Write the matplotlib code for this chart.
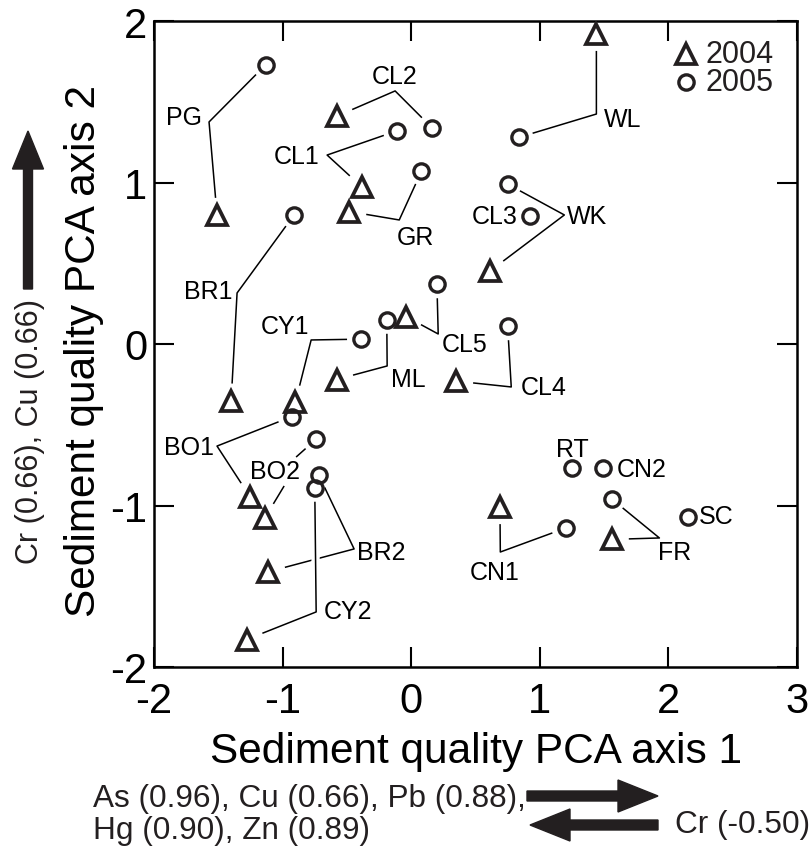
import matplotlib
matplotlib.use("Agg")
import matplotlib.pyplot as plt
import numpy as np
from matplotlib.patches import FancyArrow
from matplotlib.transforms import IdentityTransform
import matplotlib.patheffects as pe

plt.rcParams["font.family"] = ["Liberation Sans", "DejaVu Sans"]
plt.rcParams["axes.unicode_minus"] = False

# ---------------- data ----------------
sites_04 = ["PG", "CL2", "CL1", "GR", "WL", "WK", "BR1", "CY1", "ML", "CL5",
            "CL4", "BO1", "BO2", "BR2", "CY2", "CN1", "FR"]
x_2004 = [-1.51, -0.58, -0.38, -0.48, 1.44, 0.61, -1.40, -0.90, -0.58, -0.04,
          0.35, -1.25, -1.14, -1.11, -1.28, 0.69, 1.56]
y_2004 = [0.80, 1.41, 0.97, 0.82, 1.92, 0.45, -0.35, -0.36, -0.22, 0.17,
          -0.23, -0.95, -1.08, -1.41, -1.83, -1.01, -1.21]

sites_05 = ["PG", "CL2", "CL1", "GR", "WL", "WK", "BR1", "CY1", "ML", "CL5",
            "CL4", "BO1", "BO2", "BR2", "CY2", "CN1", "FR", "CL3", "RT", "CN2", "SC"]
x_2005 = [-1.13, 0.16, -0.11, 0.08, 0.84, 0.75, -0.91, -0.39, -0.19, 0.20,
          0.75, -0.93, -0.74, -0.72, -0.75, 1.20, 1.56, 0.92, 1.25, 1.49, 2.15]
y_2005 = [1.73, 1.34, 1.32, 1.07, 1.28, 0.99, 0.80, 0.03, 0.15, 0.37,
          0.11, -0.45, -0.59, -0.81, -0.89, -1.14, -0.96, 0.79, -0.77, -0.77, -1.07]

xticks = [-2, -1, 0, 1, 2, 3]
yticks = [-2, -1, 0, 1, 2]
xlabel = "Sediment quality PCA axis 1"
ylabel = "Sediment quality PCA axis 2"
legend_labels = ["2004", "2005"]
x_load_pos_1 = "As (0.96), Cu (0.66), Pb (0.88),"
x_load_pos_2 = "Hg (0.90), Zn (0.89)"
x_load_neg = "Cr (-0.50)"
y_load_pos = "Cr (0.66), Cu (0.66)"

# ---------------- label layout (data units) ----------------
# site: (label x, label y, ha)
label_pos = {
    "PG": (-1.626, 1.406, "right"), "CL2": (-0.132, 1.659, "center"),
    "CL1": (-0.716, 1.164, "right"), "GR": (0.031, 0.663, "center"),
    "WL": (1.502, 1.393, "left"), "WK": (1.214, 0.793, "left"),
    "CL3": (0.825, 0.793, "right"), "BR1": (-1.393, 0.328, "right"),
    "CY1": (-0.794, 0.111, "right"), "ML": (-0.156, -0.217, "left"),
    "CL5": (0.241, 0.0, "left"), "CL4": (0.848, -0.266, "left"),
    "BO1": (-1.533, -0.638, "right"), "BO2": (-1.058, -0.786, "center"),
    "BR2": (-0.420, -1.288, "left"), "CY2": (-0.677, -1.653, "left"),
    "CN1": (0.646, -1.412, "center"), "FR": (1.922, -1.288, "left"),
    "RT": (1.253, -0.650, "center"), "CN2": (1.595, -0.774, "left"),
    "SC": (2.233, -1.065, "left"),
}
# connector bends between 2005 circle and 2004 triangle (None = break)
elbows = {
    "PG": [(-1.572, 1.375)], "CL2": [(-0.125, 1.567)], "CL1": [(-0.654, 1.170)],
    "GR": [(-0.093, 0.768)], "WL": [(1.440, 1.424)], "WK": [(1.191, 0.799)],
    "BR1": [(-1.354, 0.316)], "CY1": [(-0.778, 0.025)], "ML": [(-0.187, -0.136)],
    "CL5": [(0.210, 0.062)], "CL4": [(0.778, -0.266)], "BO1": [(-1.510, -0.632)],
    "BO2": [(-0.895, -0.700), None, (-0.988, -0.879)],
    "BR2": [(-0.444, -1.269)], "CY2": [(-0.739, -1.659)],
    "CN1": [(0.693, -1.288)], "FR": [(1.930, -1.201)],
}

INK = "#231f20"
W, H = 811, 854
fig = plt.figure(figsize=(W / 100, H / 100), dpi=100)
ax = fig.add_axes([154 / W, 1 - 668 / H, (797 - 154) / W, 646 / H])
ax.set_xlim(-2, 3)
ax.set_ylim(-2, 2)
ax.set_xticks(xticks)
ax.set_yticks(yticks)
ax.set_xticklabels([str(t) for t in xticks], fontsize=30)
ax.set_yticklabels([str(t) for t in yticks], fontsize=30)
for lbl in ax.get_xticklabels() + ax.get_yticklabels():
    lbl.set_fontfamily(["Liberation Sans Narrow", "Liberation Sans"])
ax.tick_params(direction="in", length=14.5, width=1.5, top=True, right=True,
               colors="black")
ax.tick_params(axis="x", pad=10)
ax.tick_params(axis="y", pad=5)
for s in ax.spines.values():
    s.set_linewidth(1.8)

pos05 = {s: (x, y) for s, x, y in zip(sites_05, x_2005, y_2005)}
pos04 = {s: (x, y) for s, x, y in zip(sites_04, x_2004, y_2004)}


def trimmed(points, t0, t1):
    d = ax.transData.transform(np.array(points, float))
    v = d[1] - d[0]
    d[0] = d[0] + v / np.hypot(*v) * t0
    v = d[-1] - d[-2]
    d[-1] = d[-1] - v / np.hypot(*v) * t1
    return ax.transData.inverted().transform(d)


for s in sites_04:
    seq = [pos05[s]] + elbows[s] + [pos04[s]]
    pieces, cur = [], []
    for p in seq:
        if p is None:
            pieces.append(cur)
            cur = []
        else:
            cur.append(p)
    pieces.append(cur)
    for i, piece in enumerate(pieces):
        t0 = 14 if i == 0 else 0
        t1 = 17 if i == len(pieces) - 1 else 0
        pts = trimmed(piece, t0, t1)
        kw = dict(color="black", lw=1.1, solid_capstyle="butt", zorder=1)
        if s == "CY2":
            kw["zorder"] = 1.5
            kw["path_effects"] = [pe.Stroke(linewidth=6, foreground="white"),
                                  pe.Normal()]
        ax.plot(pts[:, 0], pts[:, 1], **kw)

ax.plot(x_2004, y_2004, linestyle="none", marker="^", markersize=14,
        markerfacecolor="none", markeredgecolor=INK, markeredgewidth=2.7, zorder=3)
ax.plot(x_2005, y_2005, linestyle="none", marker="o", markersize=11,
        markerfacecolor="none", markeredgecolor=INK, markeredgewidth=2.4, zorder=3)

for s, (lx, ly, ha) in label_pos.items():
    ax.text(lx, ly, s, fontsize=18, ha=ha, va="center", color="black", zorder=4)

# legend (manual)
ax.plot([0.827], [0.949], transform=ax.transAxes, marker="^", markersize=14,
        markerfacecolor="none", markeredgecolor=INK, markeredgewidth=2.7,
        linestyle="none", clip_on=False)
ax.plot([0.827], [0.906], transform=ax.transAxes, marker="o", markersize=11,
        markerfacecolor="none", markeredgecolor=INK, markeredgewidth=2.4,
        linestyle="none", clip_on=False)
ax.text(0.857, 0.949, legend_labels[0], transform=ax.transAxes, fontsize=22,
        ha="left", va="center", color=INK)
ax.text(0.857, 0.906, legend_labels[1], transform=ax.transAxes, fontsize=22,
        ha="left", va="center", color=INK)

# axis titles
fig.text(476 / W, 1 - 763 / H, xlabel, fontsize=30.5, ha="center", va="baseline")
fig.text(84 / W, 1 - 351 / H, ylabel, fontsize=30.5, ha="center", va="center",
         rotation=90)

# loading annotations
fig.text(93 / W, 1 - 807 / H, x_load_pos_1, fontsize=22.7, ha="left",
         va="baseline", color=INK)
fig.text(93 / W, 1 - 839 / H, x_load_pos_2, fontsize=22.7, ha="left",
         va="baseline", color=INK)
fig.text(675 / W, 1 - 833 / H, x_load_neg, fontsize=22.7, ha="left",
         va="baseline", color=INK)
fig.text(30 / W, 1 - 431 / H, y_load_pos, fontsize=22, ha="center",
         va="center", rotation=90, color=INK)

idt = IdentityTransform()
fig.add_artist(FancyArrow(527, H - 797, 131, 0, width=10, head_width=32,
                          head_length=40, length_includes_head=True,
                          color=INK, transform=idt))
fig.add_artist(FancyArrow(658, H - 826, -128, 0, width=10, head_width=32,
                          head_length=40, length_includes_head=True,
                          color=INK, transform=idt))
fig.add_artist(FancyArrow(28, H - 290, 0, 158, width=9, head_width=31,
                          head_length=38, length_includes_head=True,
                          color=INK, transform=idt))

fig.savefig("out.png", dpi=100)
